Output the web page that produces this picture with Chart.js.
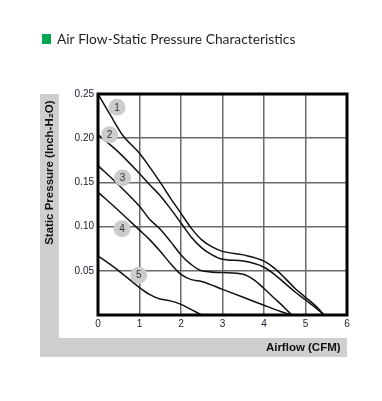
<!DOCTYPE html>
<html><head><meta charset="utf-8">
<script src="https://cdn.jsdelivr.net/npm/chart.js@4"></script>
<style>html,body{margin:0;padding:0;background:#fff;}canvas{display:block;}</style>
</head><body>
<canvas id="c" width="382" height="401"></canvas>
<script>
const chartTitle = 'Air Flow-Static Pressure Characteristics';
const xAxisTitle = 'Airflow (CFM)  ';
const yAxisTitle = 'Static Pressure (Inch-H\u2082O)  ';
const xTickLabels = ['0','1','2','3','4','5','6'];
const yTickLabels = ['', '0.05','0.10','0.15','0.20','0.25'];

const airflow1  = [0, 0.3, 0.6, 1.0, 1.25, 1.5, 1.75, 2.0, 2.25, 2.5, 2.75, 3.0, 3.5, 4.0, 4.25, 4.5, 4.75, 5.0, 5.25, 5.45];
const pressure1 = [0.250, 0.226, 0.203, 0.183, 0.167, 0.150, 0.132, 0.115, 0.098, 0.085, 0.077, 0.072, 0.068, 0.061, 0.053, 0.042, 0.030, 0.020, 0.010, 0];

const airflow2  = [0, 0.5, 1.0, 1.25, 1.5, 1.75, 2.0, 2.25, 2.5, 2.75, 3.0, 3.5, 4.0, 4.25, 4.5, 4.75, 5.0, 5.25, 5.45];
const pressure2 = [0.204, 0.184, 0.160, 0.147, 0.135, 0.120, 0.104, 0.088, 0.076, 0.068, 0.063, 0.061, 0.054, 0.046, 0.036, 0.026, 0.017, 0.008, 0];

const airflow3  = [0, 0.5, 1.0, 1.25, 1.5, 1.75, 2.0, 2.25, 2.5, 3.0, 3.5, 3.75, 4.0, 4.25, 4.5, 4.67];
const pressure3 = [0.169, 0.147, 0.123, 0.108, 0.097, 0.083, 0.068, 0.057, 0.050, 0.048, 0.046, 0.040, 0.030, 0.019, 0.008, 0];

const airflow4  = [0, 0.5, 1.0, 1.25, 1.5, 1.75, 2.0, 2.25, 2.5, 3.0, 3.5, 4.0, 4.4, 4.67];
const pressure4 = [0.139, 0.118, 0.096, 0.085, 0.072, 0.058, 0.046, 0.040, 0.038, 0.029, 0.020, 0.011, 0.004, 0];

const airflow5  = [0, 0.5, 1.0, 1.25, 1.5, 1.75, 2.0, 2.25, 2.5];
const pressure5 = [0.067, 0.050, 0.031, 0.023, 0.018, 0.016, 0.012, 0.006, 0];

const labelNames    = ['1', '2', '3', '4', '5'];
const labelAirflow  = [0.46, 0.28, 0.59, 0.58, 0.98];
const labelPressure = [0.235, 0.204, 0.155, 0.0975, 0.045];

function pts(xs, ys) { return xs.map((x, i) => ({x: x, y: ys[i]})); }
function curve(xs, ys) {
  return {
    data: pts(xs, ys), borderColor: '#111', borderWidth: 1.5, pointRadius: 0,
    cubicInterpolationMode: 'monotone', fill: false, order: 1
  };
}

const decor = {
  id: 'decor',
  beforeDraw(chart) {
    const ctx = chart.ctx, ca = chart.chartArea;
    const left = chart.scales.y.left, bottom = chart.scales.x.bottom;
    ctx.save();
    ctx.fillStyle = '#cfcfcf';
    ctx.fillRect(left, ca.top, 19, bottom - ca.top);
    ctx.fillRect(left, bottom - 19, ca.right - left, 19);
    ctx.fillStyle = '#00a651';
    ctx.fillRect(42, 34, 9, 10);
    ctx.fillStyle = '#231f20';
    ctx.font = '13.8px Lato';
    ctx.textBaseline = 'alphabetic';
    ctx.textAlign = 'left';
    ctx.fillText(chartTitle, 57, 44);
    ctx.restore();
  },
  afterDatasetsDraw(chart) {
    const ctx = chart.ctx, ca = chart.chartArea;
    ctx.save();
    ctx.strokeStyle = '#000';
    ctx.lineWidth = 3;
    ctx.strokeRect(ca.left, ca.top, ca.right - ca.left, ca.bottom - ca.top);
    const meta = chart.getDatasetMeta(0);
    ctx.fillStyle = '#333';
    ctx.font = '10px "Liberation Sans", Arial';
    ctx.textAlign = 'center';
    ctx.textBaseline = 'middle';
    meta.data.forEach((el, i) => ctx.fillText(labelNames[i], el.x, el.y + 0.5));
    ctx.restore();
  }
};

new Chart(document.getElementById('c'), {
  type: 'line',
  data: {
    datasets: [
      { data: pts(labelAirflow, labelPressure), showLine: false, pointRadius: 8.5, pointHoverRadius: 8.5,
        pointBackgroundColor: '#cccccc', pointBorderWidth: 0, borderColor: 'transparent', order: 0 },
      curve(airflow1, pressure1),
      curve(airflow2, pressure2),
      curve(airflow3, pressure3),
      curve(airflow4, pressure4),
      curve(airflow5, pressure5)
    ]
  },
  options: {
    responsive: false, animation: false, devicePixelRatio: 1,
    layout: { padding: { left: 40, top: 94, right: 35, bottom: 44 } },
    plugins: { legend: { display: false }, tooltip: { enabled: false }, title: { display: false } },
    scales: {
      x: {
        type: 'linear', min: 0, max: 6,
        ticks: { stepSize: 1, padding: 3, color: '#1a1a2e', font: { family: '"Liberation Sans", Arial', size: 10 },
                 callback: (v, i) => xTickLabels[i], maxRotation: 0 },
        grid: { color: '#6a6a6a', lineWidth: 1.5, drawTicks: false },
        border: { display: false },
        title: { display: true, text: xAxisTitle, align: 'end', color: '#111',
                 font: { family: '"Liberation Sans", Arial', size: 11.5, weight: 'bold' }, padding: { top: 0, bottom: 2 } },
        afterFit: s => { s.height = 42; }
      },
      y: {
        type: 'linear', min: 0, max: 0.25,
        ticks: { stepSize: 0.05, padding: 4, color: '#1a1a2e', font: { family: '"Liberation Sans", Arial', size: 10 },
                 callback: (v, i) => yTickLabels[i] },
        grid: { color: '#6a6a6a', lineWidth: 1.5, drawTicks: false },
        border: { display: false },
        title: { display: true, text: yAxisTitle, align: 'end', color: '#111',
                 font: { family: '"Liberation Sans", Arial', size: 11.5, weight: 'bold' }, padding: { top: 3, bottom: 0 } },
        afterFit: s => { s.width = 58; }
      }
    }
  },
  plugins: [decor]
});
</script>
</body></html>
